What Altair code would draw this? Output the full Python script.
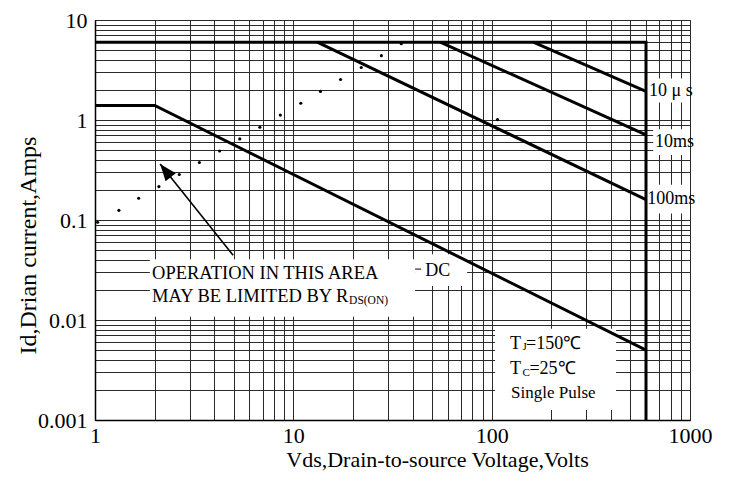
import altair as alt
import pandas as pd

# ---- data (Vds in volts, Id in amps) ----
limit_v = [1, 600, 600]
limit_i = [6, 6, 0.001]
us10_v = [162, 600]
us10_i = [6, 1.93]
ms10_v = [55, 600]
ms10_i = [6, 0.71]
ms100_v = [13.2, 600]
ms100_i = [6, 0.16]
dc_v = [1, 2, 600]
dc_i = [1.4, 1.4, 0.005]

rds_v = [1.03, 1.32, 1.66, 2.1, 2.66, 3.36, 4.25, 5.37, 6.78, 8.6, 10.9, 13.7, 17.3, 22, 27.8, 35, 107]
rds_i = [0.095, 0.125, 0.165, 0.216, 0.285, 0.376, 0.49, 0.647, 0.846, 1.12, 1.47, 1.93, 2.54, 3.35, 4.4, 5.8, 1.01]

x_grid = [1, 2, 3, 4, 5, 6, 7, 8, 9, 10, 20, 30, 40, 50, 60, 70, 80, 90, 100,
          200, 300, 400, 500, 600, 700, 800, 900, 1000]
x_labels = [1, 10, 100, 1000]
y_grid = [0.001, 0.002, 0.003, 0.004, 0.005, 0.006, 0.007, 0.008, 0.009,
          0.01, 0.02, 0.03, 0.04, 0.05, 0.06, 0.07, 0.08, 0.09,
          0.1, 0.2, 0.3, 0.4, 0.5, 0.6, 0.7, 0.8, 0.9,
          1, 2, 3, 4, 5, 6, 7, 8, 9, 10]
y_labels = [0.001, 0.01, 0.1, 1, 10]

# annotation boxes (white backgrounds)
box_v = [1.89, 41.1, 600, 652, 600, 104]
box_v2 = [41.1, 75.2, 1000, 1000, 1000, 424]
box_i = [0.0405, 0.0455, 2.6, 0.81, 0.225, 0.00818]
box_i2 = [0.01076, 0.0219, 1.5, 0.447, 0.116, 0.00126]

# texts
txt = ["10 μ s", "10ms", "100ms", "DC",
       "OPERATION IN THIS AREA", "MAY BE LIMITED BY R", "DS(ON)",
       "T", "J", "=150℃", "T", "C", "=25℃", "Single Pulse"]
txt_v = [622, 667, 608, 46.2, 1.94, 1.94, 19.1, 123.8, 143.0, 149.0, 123.8, 143.0, 155.0, 125.3]
txt_i = [1.97, 0.601, 0.163, 0.0308, 0.0294, 0.0174, 0.0155, 0.00581, 0.00531, 0.00581,
         0.0032, 0.00293, 0.0032, 0.00185]
txt_fs = [18, 18, 18, 18, 18.5, 18.5, 11.5, 18, 11, 18, 18, 11, 18, 17]

# arrow: tail -> tip
arrow_v = [4.97]
arrow_v2 = [2.13]
arrow_i = [0.0445]
arrow_i2 = [0.364]

# leader dash before DC
lead_v = [41.1]
lead_v2 = [44.1]
lead_i = [0.0323]

FONT = "Liberation Serif"

rows = []
for name, vs, is_ in [("limit", limit_v, limit_i), ("10us", us10_v, us10_i),
                      ("10ms", ms10_v, ms10_i), ("100ms", ms100_v, ms100_i),
                      ("dc", dc_v, dc_i)]:
    for k, (v, i) in enumerate(zip(vs, is_)):
        rows.append({"s": name, "o": k, "v": v, "i": i})
lines_df = pd.DataFrame(rows)
dots_df = pd.DataFrame({"v": rds_v, "i": rds_i})
box_df = pd.DataFrame({"v": box_v, "v2": box_v2, "i": box_i, "i2": box_i2})
txt_df = pd.DataFrame({"t": txt, "v": txt_v, "i": txt_i, "fs": txt_fs})
arrow_df = pd.DataFrame({"v": arrow_v, "v2": arrow_v2, "i": arrow_i, "i2": arrow_i2})
tip_df = pd.DataFrame({"v": arrow_v2, "i": arrow_i2})
lead_df = pd.DataFrame({"v": lead_v, "v2": lead_v2, "i": lead_i})

xscale = alt.Scale(type="log", domain=[1, 1000], nice=False)
yscale = alt.Scale(type="log", domain=[0.001, 10], nice=False)

xlab = "indexof(" + str(x_labels) + ", datum.value) >= 0 ? datum.value + '' : ''"
ylab = "indexof(" + str(y_labels) + ", datum.value) >= 0 ? datum.value + '' : ''"

xaxis = alt.Axis(values=x_grid, labelExpr=xlab, labelFont=FONT, labelFontSize=22,
                 labelColor="black", labelOverlap=False, labelFlush=False,
                 ticks=False, labelPadding=5, domainColor="black", domainWidth=1.5,
                 grid=True, gridColor="#2a2a2a", gridWidth=1, gridOpacity=1,
                 title="Vds,Drain-to-source Voltage,Volts", titleFont=FONT,
                 titleFontSize=22, titleFontWeight="normal", titleColor="black",
                 titlePadding=3, titleX=342)
yaxis = alt.Axis(values=y_grid, labelExpr=ylab, labelFont=FONT, labelFontSize=22,
                 labelColor="black", labelOverlap=False, labelFlush=False,
                 ticks=False, labelPadding=8, domainColor="black", domainWidth=1.5,
                 grid=True, gridColor="#2a2a2a", gridWidth=1, gridOpacity=1,
                 title="Id,Drian current,Amps", titleFont=FONT, titleFontSize=24,
                 titleFontWeight="normal", titleColor="black",
                 titleBaseline="middle", titleX=-67, titleY=225)

X = alt.X("v:Q", scale=xscale, axis=xaxis)
Y = alt.Y("i:Q", scale=yscale, axis=yaxis)

boxes = alt.Chart(box_df).mark_rect(fill="white", stroke=None, opacity=1).encode(
    x=X, x2="v2:Q", y=Y, y2="i2:Q")

lines = alt.Chart(lines_df).mark_line(color="black", strokeWidth=3).encode(
    x=X, y=Y, detail="s:N", order="o:Q")

dots = alt.Chart(dots_df).mark_circle(color="black", size=10, opacity=1).encode(x=X, y=Y)

arrow = alt.Chart(arrow_df).mark_rule(color="black", strokeWidth=1.6).encode(
    x=X, x2="v2:Q", y=Y, y2="i2:Q")

tip = alt.Chart(tip_df).mark_point(shape="M0,0L0.65,1.7L-0.65,1.7Z", filled=True,
                                   size=400, angle=321.6, color="black", opacity=1).encode(x=X, y=Y)

lead = alt.Chart(lead_df).mark_rule(color="black", strokeWidth=1).encode(
    x=X, x2="v2:Q", y=Y)

texts = alt.Chart(txt_df).mark_text(font=FONT, align="left", baseline="middle",
                                    color="black").encode(
    x=X, y=Y, text="t:N", size=alt.Size("fs:Q", scale=None, legend=None))

chart = alt.layer(boxes, lines, dots, arrow, tip, lead, texts).properties(
    width=595, height=400,
    autosize=alt.AutoSizeParams(type="none"),
    padding={"left": 87, "top": 12, "right": 30, "bottom": 60},
).configure_view(stroke="#2a2a2a", strokeWidth=1)

chart.save("out.html", embed_options={"renderer": "svg", "actions": False})
